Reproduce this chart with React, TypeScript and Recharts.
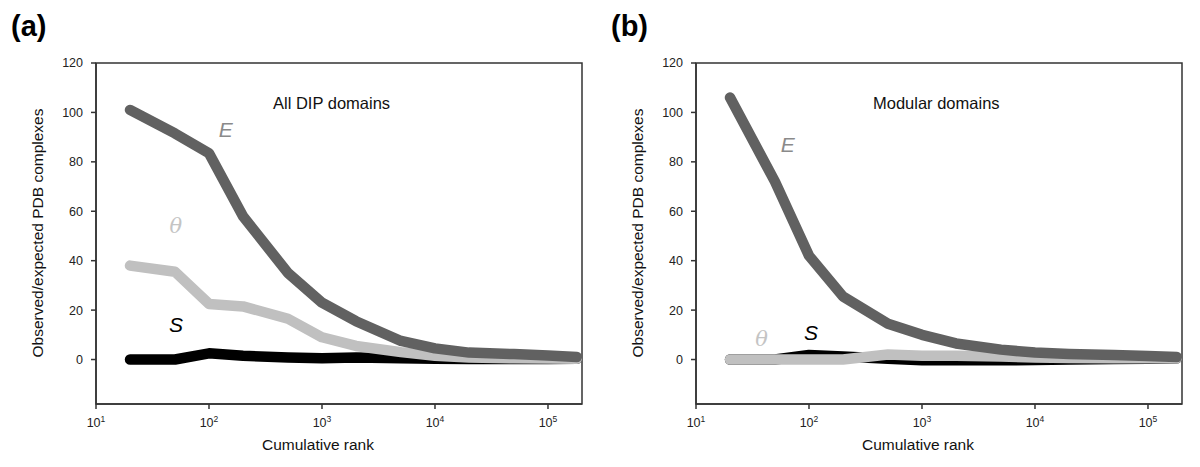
import React from 'react';
import {
  LineChart,
  Line,
  XAxis,
  YAxis,
  ReferenceArea,
  ReferenceDot,
} from 'recharts';

// cumulative rank at each sample
const ranks = [20, 50, 100, 200, 500, 1000, 2000, 5000, 10000, 20000, 50000, 100000, 180000];

// (a) All DIP domains
const dipE = [101, 91.5, 83.5, 58, 35, 23, 15.5, 7.5, 4.5, 2.8, 2.2, 1.6, 1];
const dipTheta = [38, 35.5, 22.5, 21.5, 16.5, 9, 5.5, 3, 1.5, 0.8, 0.5, 0.4, 0.3];
const dipS = [0, 0, 2.5, 1.5, 0.8, 0.5, 0.8, 0.5, 0.3, 0.2, 0.2, 0.2, 0.3];

// (b) Modular domains
const modE = [106, 72, 42, 25.5, 14.5, 10, 6.5, 4, 2.8, 2.2, 1.8, 1.4, 1];
const modTheta = [0, 0, 0, 0, 2, 1.5, 1.5, 1.2, 0.8, 0.6, 0.5, 0.5, 0.5];
const modS = [0, 0, 1.8, 1.2, 0.3, -0.3, -0.3, -0.3, -0.2, 0, 0.2, 0.3, 0.5];

const xTicks = [10, 100, 1000, 10000, 100000];
const yTicks = [0, 20, 40, 60, 80, 100, 120];

const SANS = '"Liberation Sans", Arial, Helvetica, sans-serif';

const LogTick = (props: any) => {
  const { x, y, payload } = props;
  const exp = Math.round(Math.log10(payload.value));
  return (
    <text x={x} y={y + 16} textAnchor="middle" fontSize={12.5} fill="#222" fontFamily={SANS}>
      <tspan>10</tspan>
      <tspan dy={-5} fontSize={8.5}>{exp}</tspan>
    </text>
  );
};

const label = (txt: string, color: string, serif = false) => (p: any) => (
  <text
    x={p.cx}
    y={p.cy}
    textAnchor="middle"
    dominantBaseline="central"
    fontSize={21}
    fontStyle="italic"
    fill={color}
    fontFamily={serif ? '"DejaVu Serif", serif' : SANS}
  >
    {txt}
  </text>
);

type PanelProps = {
  tag: string;
  title: string;
  E: number[];
  theta: number[];
  S: number[];
  marks: { E: [number, number]; theta: [number, number]; S: [number, number] };
};

const Panel = ({ tag, title, E, theta, S, marks }: PanelProps) => {
  const data = ranks.map((r, i) => ({ rank: r, E: E[i], theta: theta[i], S: S[i] }));
  return (
    <div style={{ position: 'relative', width: 600, height: 467, fontFamily: SANS }}>
      <div style={{ position: 'absolute', left: 11, top: 10, fontSize: 29, fontWeight: 'bold' }}>
        {tag}
      </div>
      <div style={{ position: 'absolute', left: 273, top: 94, fontSize: 16.5, color: '#111' }}>
        {title}
      </div>
      <div
        style={{
          position: 'absolute',
          left: 38,
          top: 233,
          transform: 'translate(-50%, -50%) rotate(-90deg)',
          whiteSpace: 'nowrap',
          fontSize: 15.5,
          color: '#111',
        }}
      >
        Observed/expected PDB complexes
      </div>
      <div
        style={{
          position: 'absolute',
          left: 318,
          top: 445,
          transform: 'translate(-50%, -50%)',
          whiteSpace: 'nowrap',
          fontSize: 15.5,
          color: '#111',
        }}
      >
        Cumulative rank
      </div>
      <div style={{ position: 'absolute', left: 0, top: 0 }}>
        <LineChart width={600} height={467} data={data} margin={{ top: 63, right: 18, bottom: 33, left: 36 }}>
          <XAxis
            dataKey="rank"
            type="number"
            scale="log"
            domain={[10, 200000]}
            ticks={xTicks}
            allowDataOverflow
            tick={<LogTick />}
            tickSize={5}
            height={30}
            axisLine={{ stroke: '#333', strokeWidth: 1.5 }}
            tickLine={{ stroke: '#333', strokeWidth: 1.5 }}
          />
          <YAxis
            type="number"
            domain={[-18, 120]}
            ticks={yTicks}
            allowDataOverflow
            width={60}
            tickSize={5}
            tickMargin={8}
            tick={{ fontSize: 12.5, fill: '#222', fontFamily: SANS }}
            axisLine={{ stroke: '#333', strokeWidth: 1.5 }}
            tickLine={{ stroke: '#333', strokeWidth: 1.5 }}
          />
          <ReferenceArea x1={10} x2={200000} y1={-18} y2={120} fill="none" stroke="#333" strokeWidth={1.5} />
          <Line
            dataKey="S"
            stroke="#000"
            strokeWidth={10.5}
            strokeLinecap="round"
            strokeLinejoin="round"
            dot={false}
            isAnimationActive={false}
          />
          <Line
            dataKey="theta"
            stroke="#c0c0c0"
            strokeWidth={10.5}
            strokeLinecap="round"
            strokeLinejoin="round"
            dot={false}
            isAnimationActive={false}
          />
          <Line
            dataKey="E"
            stroke="#616161"
            strokeWidth={10.5}
            strokeLinecap="round"
            strokeLinejoin="round"
            dot={false}
            isAnimationActive={false}
          />
          <ReferenceDot x={marks.E[0]} y={marks.E[1]} r={0} shape={label('E', '#8a8a8a')} />
          <ReferenceDot x={marks.theta[0]} y={marks.theta[1]} r={0} shape={label('θ', '#c4c4c4', true)} />
          <ReferenceDot x={marks.S[0]} y={marks.S[1]} r={0} shape={label('S', '#000')} />
        </LineChart>
      </div>
    </div>
  );
}

export default function App() {
  return (
    <div style={{ position: 'absolute', left: 0, top: 0, width: 1200, height: 467, background: '#fff', display: 'flex' }}>
      <Panel
        tag="(a)"
        title="All DIP domains"
        E={dipE}
        theta={dipTheta}
        S={dipS}
        marks={{ E: [141, 93], theta: [51, 54], S: [51, 14] }}
      />
      <Panel
        tag="(b)"
        title="Modular domains"
        E={modE}
        theta={modTheta}
        S={modS}
        marks={{ E: [65, 87], theta: [38, 8.5], S: [104, 11] }}
      />
    </div>
  );
}
